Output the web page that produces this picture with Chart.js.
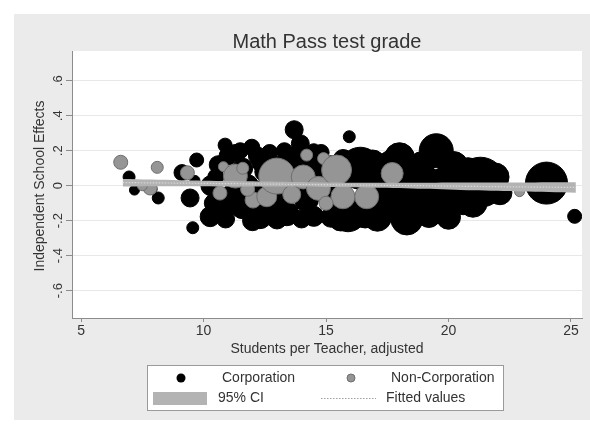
<!DOCTYPE html>
<html><head><meta charset="utf-8">
<script src="https://cdn.jsdelivr.net/npm/chart.js@4"></script>
<style>html,body{margin:0;padding:0;background:#fff;}canvas{display:block;}</style>
</head><body>
<canvas id="c" width="590" height="426"></canvas>
<script>
// ---------- data ----------
const corpX = [6.96, 7.18, 7.9, 8.15, 9.12, 9.72, 9.45, 9.56, 9.65,
  10.27, 10.5, 10.88, 10.7, 11.0, 11.3, 11.6, 11.97, 11.6, 12.3, 12.2, 12.5, 13.4, 12.9, 13.7, 13.95, 13.8, 14.5, 14.2, 14.8, 15.2, 15.2,
  15.95, 16.4, 15.9, 16.6, 17.1, 17.3, 15.7, 18.0, 18.3, 18.5, 18.0, 17.5,
  19.5, 19.3, 19.6, 20.2, 20.6, 20.0, 18.9, 21.3, 20.8,
  24.0, 25.15,
  10.3, 10.6, 11.2, 11.8, 12.6, 12.4, 13.3, 13.9, 14.4, 14.9, 15.4, 16.9, 17.8, 18.6, 19.0, 19.9, 20.4, 21.9, 22.1,
  10.9, 12.0, 13.0, 14.0, 15.6, 13.3, 14.5, 11.5, 12.7, 17.6, 16.9, 10.4, 21.0, 19.2];
const corpY = [0.05, -0.025, -0.02, -0.07, 0.075, 0.147, -0.07, -0.24, 0.03,
  -0.177, 0.05, 0.232, -0.14, 0.17, 0.19, -0.12, 0.22, 0.1, -0.177, 0.17, 0.08, -0.16, -0.1, 0.32, 0.24, 0.17, -0.175, -0.08, 0.19, -0.18, 0.12,
  0.28, 0.1, -0.16, -0.15, -0.18, 0.05, 0.15, 0.16, -0.19, 0.06, -0.05, -0.12,
  0.2, 0.01, -0.13, 0.11, -0.08, -0.18, 0.12, 0.02, 0.08,
  0.015, -0.175,
  0.0, 0.12, -0.05, 0.0, -0.02, 0.13, 0.12, 0.05, 0.1, 0.03, -0.05, -0.02, 0.05, -0.08, 0.0, 0.02, -0.03, 0.05, -0.04,
  -0.19, -0.2, -0.19, -0.19, -0.19, 0.2, 0.2, 0.2, 0.19, 0.13, 0.13, -0.1, -0.1, -0.17];
const corpSize = [6, 5, 5, 6, 8, 7, 9, 6, 5,
  10, 8, 7, 11, 9, 8, 12, 8, 10, 12, 9, 10, 12, 13, 9, 9, 10, 10, 12, 8, 10, 9,
  6, 21, 18, 16, 14, 14, 10, 15, 16, 14, 13, 12,
  17, 15, 15, 15, 15, 12, 13, 25, 14,
  21, 7,
  10, 9, 11, 11, 12, 10, 11, 12, 11, 11, 12, 15, 14, 14, 14, 16, 15, 14, 12,
  9, 10, 10, 9, 12, 8, 7, 8, 8, 12, 13, 9, 14, 12];

const nonX = [6.62, 8.11, 7.82, 7.5, 9.34, 10.81, 11.3, 10.67, 11.6, 12.02, 12.58, 12.99, 14.21, 14.07, 14.69, 14.9, 15.43, 15.69, 16.66, 17.7, 22.9, 13.6, 11.8, 15.0];
const nonY = [0.134, 0.105, -0.013, 0.0, 0.074, 0.109, 0.055, -0.042, 0.1, -0.082, -0.063, 0.055, 0.175, 0.05, -0.015, 0.155, 0.09, -0.063, -0.063, 0.07, -0.034, -0.05, -0.02, -0.1];
const nonSize = [7, 6, 7, 5, 7, 5, 12, 7, 6, 8, 10, 18, 6, 12, 12, 6, 15, 12, 12, 11, 5, 9, 7, 7];

const fitX   = [6.7, 9, 11, 13, 15, 17, 19, 21, 23, 25.2];
const fitY   = [0.018, 0.015, 0.012, 0.009, 0.006, 0.003, 0.0, -0.004, -0.007, -0.01];
const ciHigh = [0.038, 0.032, 0.027, 0.023, 0.019, 0.017, 0.017, 0.018, 0.019, 0.02];
const ciLow  = [-0.004, -0.003, -0.004, -0.005, -0.007, -0.011, -0.017, -0.026, -0.033, -0.04];

const xTicks = [5, 10, 15, 20, 25];
const yTicks = [-0.6, -0.4, -0.2, 0, 0.2, 0.4, 0.6];
const yTickLabels = ['-.6', '-.4', '-.2', '0', '.2', '.4', '.6'];

const chartTitle = 'Math Pass test grade';
const xTitle = 'Students per Teacher, adjusted';
const yTitle = 'Independent School Effects';

// ---------- style ----------
const FONT = "'Liberation Sans', Arial, sans-serif";
const TXT = '#333333';
const AXIS = '#8c8c8c';
const BAND = '#b3b3b3';
const GRAYB = '#959595';

const pts = (xs, ys) => xs.map((x, i) => ({x, y: ys[i]}));
const bub = (xs, ys, rs) => xs.map((x, i) => ({x, y: ys[i], r: rs[i]}));

const decor = {
  id: 'decor',
  beforeDraw(chart) {
    const ctx = chart.ctx, a = chart.chartArea;
    ctx.save();
    ctx.fillStyle = '#ffffff';
    ctx.fillRect(0, 0, chart.width, chart.height);
    ctx.fillStyle = '#ebebeb';
    ctx.fillRect(14, 14, chart.width - 14, 406);
    ctx.fillStyle = '#ffffff';
    ctx.fillRect(a.left, a.top, a.right - a.left, a.bottom - a.top);
    ctx.restore();
  },
  afterDraw(chart) {
    const ctx = chart.ctx;
    const ys = chart.scales.y;
    ctx.save();
    ctx.fillStyle = TXT;
    ctx.font = '20px ' + FONT;
    ctx.textAlign = 'center'; ctx.textBaseline = 'middle';
    ctx.fillText(chartTitle, 327, 42);
    ctx.font = '14px ' + FONT;
    ctx.fillText(xTitle, 327, 349);
    ctx.save();
    ctx.translate(40, 186); ctx.rotate(-Math.PI / 2);
    ctx.fillText(yTitle, 0, 0);
    ctx.restore();
    ctx.font = '13px ' + FONT;
    yTicks.forEach((v, i) => {
      const py = ys.getPixelForValue(v);
      ctx.save();
      ctx.translate(58, py); ctx.rotate(-Math.PI / 2);
      ctx.fillText(yTickLabels[i], 0, 0);
      ctx.restore();
    });
    // legend
    const ds = chart.data.datasets;
    const bx = 147, by = 365, bw = 356, bh = 45;
    ctx.fillStyle = '#ffffff';
    ctx.fillRect(bx, by, bw, bh);
    ctx.strokeStyle = '#9a9a9a'; ctx.lineWidth = 1;
    ctx.strokeRect(bx + 0.5, by + 0.5, bw, bh);
    const r1 = 378, r2 = 398;
    ctx.fillStyle = '#000';
    ctx.beginPath(); ctx.arc(181, r1, 4.5, 0, Math.PI * 2); ctx.fill();
    ctx.fillStyle = GRAYB; ctx.strokeStyle = '#6f6f6f';
    ctx.beginPath(); ctx.arc(351, r1, 4, 0, Math.PI * 2); ctx.fill(); ctx.stroke();
    ctx.fillStyle = BAND;
    ctx.fillRect(153, 392, 54, 13);
    ctx.strokeStyle = '#a0a0a0'; ctx.lineWidth = 1.2; ctx.setLineDash([1.5, 1.5]);
    ctx.beginPath(); ctx.moveTo(321, r2 + 0.5); ctx.lineTo(376, r2 + 0.5); ctx.stroke();
    ctx.setLineDash([]);
    ctx.fillStyle = TXT; ctx.font = '14px ' + FONT;
    ctx.textAlign = 'left'; ctx.textBaseline = 'middle';
    ctx.fillText(ds[0].label, 222, r1);
    ctx.fillText(ds[1].label, 391, r1);
    ctx.fillText(ds[2].label, 218, r2);
    ctx.fillText(ds[4].label, 386, r2);
    ctx.restore();
  }
};

new Chart(document.getElementById('c'), {
  type: 'bubble',
  data: {
    datasets: [
      {label: 'Corporation', data: bub(corpX, corpY, corpSize), backgroundColor: '#000000', borderColor: '#000000', borderWidth: 1, hoverRadius: 0, order: 5},
      {label: 'Non-Corporation', data: bub(nonX, nonY, nonSize), backgroundColor: GRAYB, borderColor: '#6f6f6f', borderWidth: 1, hoverRadius: 0, order: 4},
      {type: 'line', label: '95% CI', data: pts(fitX, ciHigh), borderWidth: 0, borderColor: 'rgba(0,0,0,0)', pointRadius: 0, backgroundColor: BAND, fill: '+1', tension: 0.3, order: 3},
      {type: 'line', label: 'ci low', data: pts(fitX, ciLow), borderWidth: 0, borderColor: 'rgba(0,0,0,0)', pointRadius: 0, fill: false, tension: 0.3, order: 3},
      {type: 'line', label: 'Fitted values', data: pts(fitX, fitY), borderColor: '#d8d8d8', borderWidth: 1.2, borderDash: [1.5, 1.5], pointRadius: 0, fill: false, order: 1}
    ]
  },
  options: {
    responsive: false,
    animation: false,
    events: [],
    layout: {autoPadding: false, padding: {left: 0, top: 51, right: 8, bottom: 68}},
    plugins: {legend: {display: false}, tooltip: {enabled: false}, title: {display: false}},
    scales: {
      x: {
        type: 'linear', min: 4.63, max: 25.45,
        afterBuildTicks: s => { s.ticks = xTicks.map(v => ({value: v})); },
        afterFit: s => { s.height = 40; },
        grid: {drawOnChartArea: false, drawTicks: true, tickLength: 4, tickColor: AXIS, color: AXIS},
        border: {color: AXIS, width: 1},
        ticks: {font: {size: 14, family: FONT}, color: TXT, padding: 1, maxRotation: 0, autoSkip: false}
      },
      y: {
        type: 'linear', min: -0.756, max: 0.77,
        afterBuildTicks: s => { s.ticks = yTicks.map(v => ({value: v})); },
        afterFit: s => { s.width = 72; },
        grid: {color: '#e8e8e8', drawTicks: true, tickLength: 6, tickColor: AXIS},
        border: {color: AXIS, width: 1},
        ticks: {display: false}
      }
    }
  },
  plugins: [decor]
});
</script>
</body></html>
